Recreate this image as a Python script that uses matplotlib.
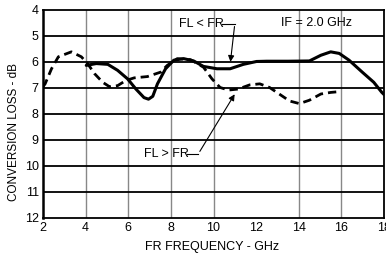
import matplotlib
matplotlib.use("Agg")
import matplotlib.pyplot as plt

# conversion loss vs RF frequency, IF = 2.0 GHz
fl_lt_fr_x = [4.03, 4.5, 5.04, 5.5, 5.97, 6.36, 6.74, 6.95, 7.15, 7.37, 7.75, 8.14, 8.6,
              9.07, 9.53, 10.16, 10.78, 11.4, 12.02, 12.5, 13.5, 14.5, 15.04, 15.5,
              15.9, 16.36, 16.98, 17.52, 17.9, 18.0]
fl_lt_fr_y = [6.13, 6.06, 6.09, 6.32, 6.65, 7.04, 7.37, 7.43, 7.32, 6.84, 6.26, 5.93, 5.87,
              5.96, 6.17, 6.26, 6.26, 6.09, 5.98, 5.97, 5.97, 5.96, 5.74, 5.61,
              5.67, 5.93, 6.39, 6.78, 7.17, 7.25]

fl_gt_fr_x = [2.0, 2.1, 2.4, 2.72, 3.33, 3.8, 4.1, 4.42, 4.8, 5.12, 5.5, 5.89, 6.28, 6.9,
              7.52, 7.83, 8.3, 8.92, 9.53, 9.93, 10.31, 10.7, 11.16, 11.7, 12.17,
              12.63, 13.1, 13.57, 14.03, 14.5, 15.04, 15.5, 15.9]
fl_gt_fr_y = [6.95, 6.84, 6.26, 5.8, 5.61, 5.8, 6.07, 6.45, 6.78, 6.95, 6.91, 6.71, 6.61, 6.56,
              6.39, 6.13, 5.87, 5.91, 6.2, 6.65, 6.98, 7.08, 7.04, 6.88, 6.84,
              6.98, 7.24, 7.5, 7.6, 7.47, 7.23, 7.17, 7.14]

xticks = [2, 4, 6, 8, 10, 12, 14, 16, 18]
xgrid = [4, 6, 8, 10, 14, 16]
yticks = [4, 5, 6, 7, 8, 9, 10, 11, 12]

plt.rcParams["font.family"] = ["Liberation Sans", "DejaVu Sans"]
fs = 9

fig = plt.figure(figsize=(3.86, 2.59), dpi=100)
ax = fig.add_axes([43 / 386, 1 - 218 / 259, 341 / 386, 208 / 259])

for g in xgrid:
    ax.axvline(g, color="#888888", lw=1.0, zorder=1)
for g in yticks[1:-1]:
    ax.axhline(g, color="black", lw=1.3, zorder=1)

ax.plot(fl_lt_fr_x, fl_lt_fr_y, color="black", lw=2.2, solid_capstyle="round", zorder=3)
ax.plot(fl_gt_fr_x, fl_gt_fr_y, color="black", lw=2.0, dashes=(3, 1.8), zorder=3)

ax.set_xlim(2, 18)
ax.set_ylim(12, 4)
ax.set_xticks(xticks)
ax.set_yticks(yticks)
ax.tick_params(length=0, labelsize=fs, pad=3)
for s in ax.spines.values():
    s.set_linewidth(1.3)
ax.spines["left"].set_linewidth(1.8)

ax.text(8.36, 4.55, "FL < FR", fontsize=fs, va="center", ha="left")
ax.plot([10.4, 11.0], [4.53, 4.53], color="black", lw=0.8)
ax.annotate("", xy=(10.78, 6.1), xytext=(11.0, 4.53),
            arrowprops=dict(arrowstyle="-|>", color="black", lw=0.8, mutation_scale=9))

ax.text(6.73, 9.55, "FL > FR", fontsize=fs, va="center", ha="left")
ax.plot([8.75, 9.29], [9.53, 9.53], color="black", lw=0.8)
ax.annotate("", xy=(11.06, 7.15), xytext=(9.29, 9.53),
            arrowprops=dict(arrowstyle="-|>", color="black", lw=0.8, mutation_scale=9))

ax.text(13.19, 4.5, "IF = 2.0 GHz", fontsize=fs, va="center", ha="left")

fig.text(14 / 386, 1 - 132 / 259, "CONVERSION LOSS - dB", rotation=90,
         fontsize=8.5, ha="center", va="center")
fig.text(212 / 386, 1 - 247 / 259, "FR FREQUENCY - GHz", fontsize=fs,
         ha="center", va="center")

fig.savefig("out.png", dpi=100)
